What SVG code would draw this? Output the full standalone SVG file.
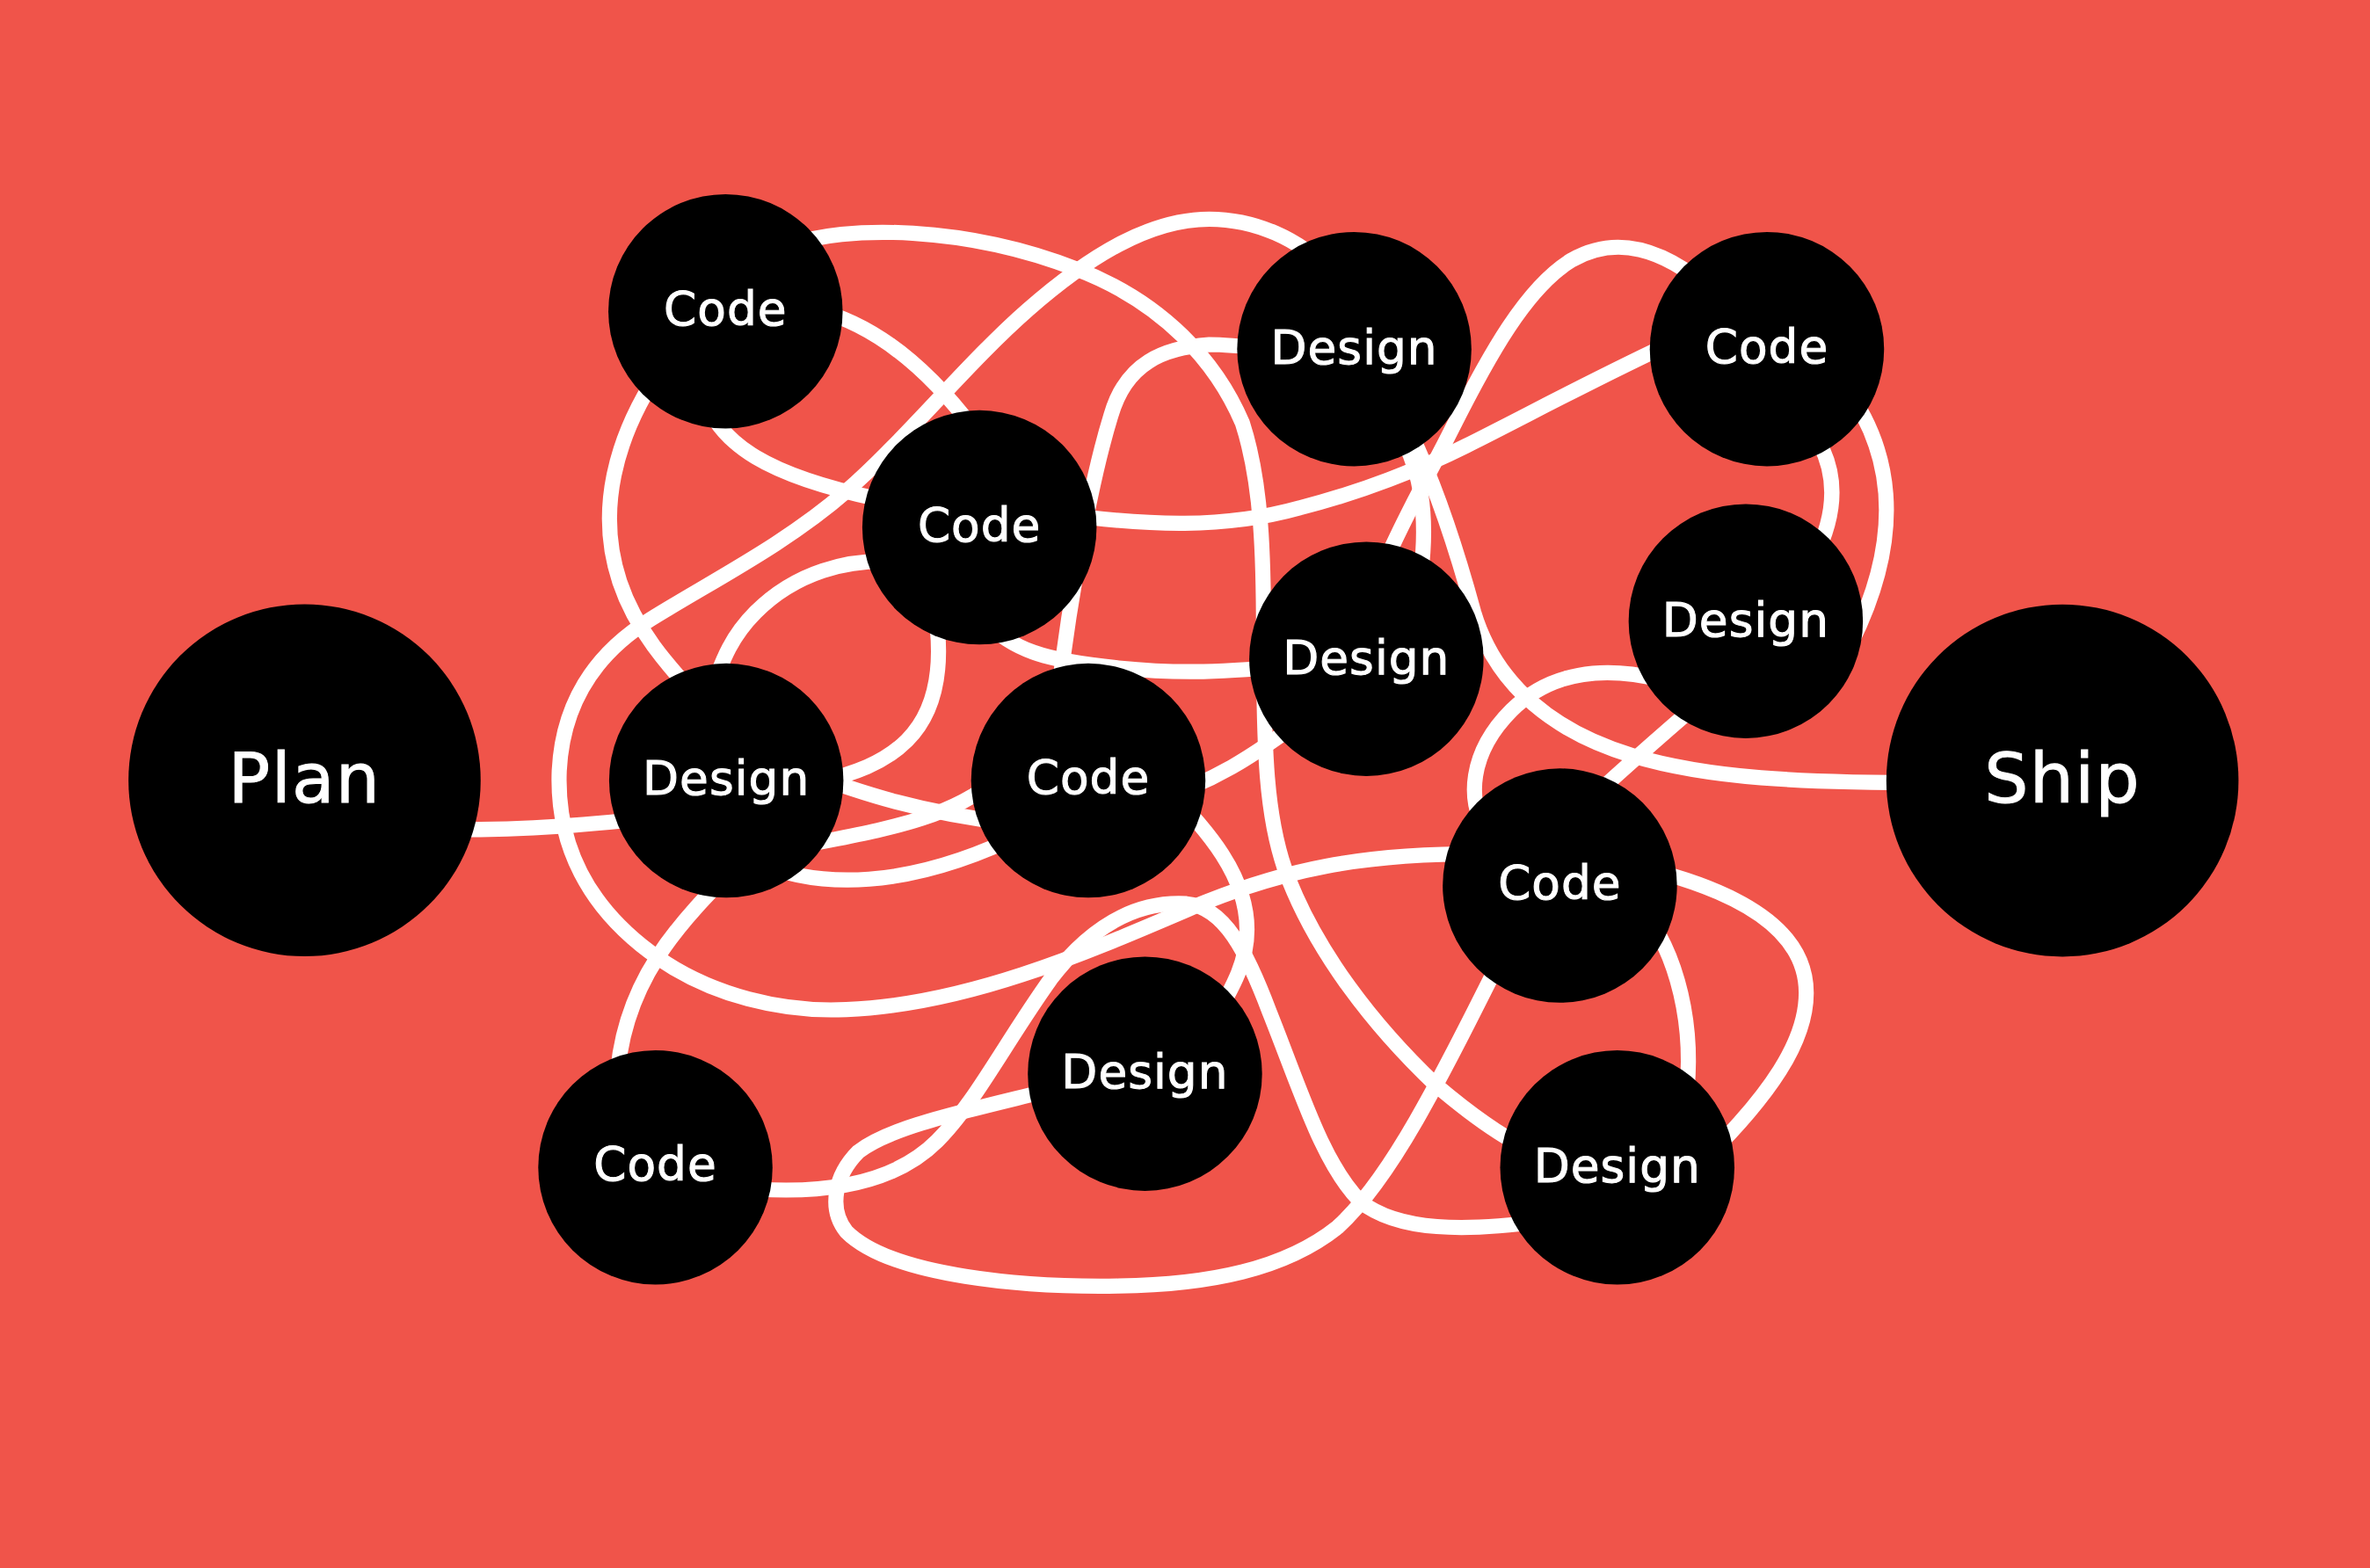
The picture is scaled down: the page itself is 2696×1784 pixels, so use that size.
<svg xmlns="http://www.w3.org/2000/svg" width="2696" height="1784" viewBox="0 0 2696 1784">
<style>
.bg{fill:#F0544A}
.wire{fill:none;stroke:#fff;stroke-width:10;stroke-linecap:round}
.node circle{fill:#000}
.node text{fill:#fff;stroke:#fff;stroke-width:0.6;font-family:"DejaVu Sans","Liberation Sans",sans-serif;text-anchor:middle}
.s{font-size:31px;letter-spacing:0.6px}
.b{font-size:46px;letter-spacing:0.8px}
</style>
<rect class="bg" width="2696" height="1784"/>
<g transform="scale(1.7194)">
<g id="connectors" class="wire">
<path d="M300,549 C350,549 390,546 440,540"/>
<path d="M520,163 C560,148 640,150 712,178 C770,200 805,240 822,280 C835,320 836,370 836,420 C836,500 838,540 850,575 C870,630 910,680 950,718 C970,735 990,750 1010,760"/>
<path d="M880,180 C860,158 830,145 800,145 C760,145 720,170 680,205 C640,240 600,290 560,325 C520,360 470,385 430,410 C390,435 372,470 370,510 C368,560 390,600 430,630 C470,660 520,670 560,668 C640,665 720,630 790,600 C850,575 900,565 980,565"/>
<path d="M540,205 C580,215 615,245 645,285"/>
<path d="M465,260 C475,295 510,315 580,330"/>
<path d="M700,340 C760,348 810,350 860,336 C900,326 940,310 970,295 C1010,275 1060,248 1110,225"/>
<path d="M600,372 C560,368 525,380 500,405 C485,420 478,435 470,460"/>
<path d="M618,400 C625,440 620,470 600,490 C585,505 565,512 540,518"/>
<path d="M650,410 C670,430 690,437 740,442 C780,446 810,445 860,440"/>
<path d="M700,460 C705,420 718,330 735,275 C745,240 770,230 800,228 C815,228 830,230 850,232"/>
<path d="M440,240 C405,290 395,340 410,385 C420,415 440,440 470,470"/>
<path d="M530,510 C570,525 610,538 670,545"/>
<path d="M520,562 C575,550 625,545 660,515"/>
<path d="M500,570 C540,588 600,590 680,550"/>
<path d="M760,530 C800,520 830,500 870,470"/>
<path d="M770,520 C800,550 825,580 825,615 C825,635 818,650 800,680"/>
<path d="M490,570 C450,610 410,650 408,720"/>
<path d="M480,785 C540,792 590,785 620,755 C645,730 665,690 695,648 C720,615 750,596 785,598 C810,600 825,630 840,670 C860,720 875,770 900,795 C925,815 970,815 1020,808"/>
<path d="M700,720 C640,735 590,745 568,762 C552,778 548,800 560,815 C590,845 680,852 740,851 C800,850 850,840 885,812 C920,780 950,720 1000,620"/>
<path d="M1090,575 C1150,590 1195,615 1195,657 C1195,690 1170,725 1130,765"/>
<path d="M1085,600 C1110,630 1122,680 1115,730"/>
<path d="M990,560 C965,530 975,495 1000,470 C1025,445 1060,440 1100,450"/>
<path d="M1040,540 C1070,512 1095,490 1130,460"/>
<path d="M930,280 C945,310 960,350 975,405 C990,455 1030,485 1080,500 C1130,515 1190,518 1280,518"/>
<path d="M925,285 C940,310 945,340 940,380"/>
<path d="M1130,190 C1100,165 1070,155 1040,172 C1010,190 985,235 960,285 C945,315 930,340 915,375"/>
<path d="M1195,280 C1215,305 1218,335 1200,370"/>
<path d="M1220,255 C1250,295 1262,350 1225,425"/>
</g>
<g id="plan" class="node"><circle cx="201.5" cy="516.3" r="116.5"/><text class="b" x="201.5" y="531">Plan</text></g>
<g id="ship" class="node"><circle cx="1364.5" cy="516.5" r="116.5"/><text class="b" x="1364.5" y="531">Ship</text></g>
<g id="code1" class="node"><circle cx="480" cy="206" r="77.5"/><text class="s" x="480" y="215">Code</text></g>
<g id="code2" class="node"><circle cx="648" cy="349" r="77.5"/><text class="s" x="648" y="358">Code</text></g>
<g id="design1" class="node"><circle cx="480.5" cy="516.5" r="77.5"/><text class="s" x="480.5" y="526">Design</text></g>
<g id="code3" class="node"><circle cx="720" cy="516.5" r="77.5"/><text class="s" x="720" y="525">Code</text></g>
<g id="design2" class="node"><circle cx="896" cy="231" r="77.5"/><text class="s" x="896" y="241">Design</text></g>
<g id="code4" class="node"><circle cx="1169" cy="231" r="77.5"/><text class="s" x="1169" y="240">Code</text></g>
<g id="design3" class="node"><circle cx="904" cy="436" r="77.5"/><text class="s" x="904" y="446">Design</text></g>
<g id="design4" class="node"><circle cx="1155" cy="411" r="77.5"/><text class="s" x="1155" y="421">Design</text></g>
<g id="code5" class="node"><circle cx="1032" cy="586" r="77.5"/><text class="s" x="1032" y="595">Code</text></g>
<g id="design5" class="node"><circle cx="757.5" cy="710.5" r="77.5"/><text class="s" x="757.5" y="720">Design</text></g>
<g id="code6" class="node"><circle cx="433.6" cy="772.5" r="77.5"/><text class="s" x="433.6" y="781">Code</text></g>
<g id="design6" class="node"><circle cx="1070" cy="772.5" r="77.5"/><text class="s" x="1070" y="782">Design</text></g>
</g>
</svg>
